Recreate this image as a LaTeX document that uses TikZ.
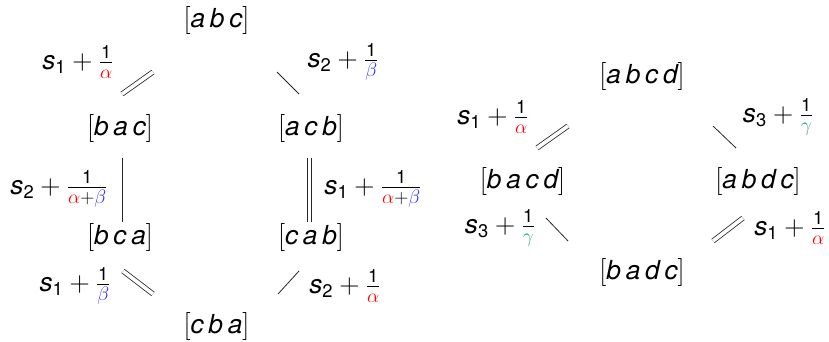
\documentclass[tikz,border=0pt]{standalone}
\usepackage{amsmath}
\usepackage{fontspec}
\setmainfont{TeX Gyre Heros}[Scale=0.97]
\definecolor{acol}{RGB}{255,0,0}
\definecolor{bcol}{RGB}{40,40,255}
\definecolor{gcol}{RGB}{20,170,110}
\newcommand\lv[1]{\text{\itshape #1}}
\newcommand\one{\text{1}}
\newcommand\al{\textcolor{acol}{\alpha}}
\newcommand\be{\textcolor{bcol}{\beta}}
\newcommand\ga{\textcolor{gcol}{\gamma}}
\newcommand\ssub[1]{\lv{s}_{\text{#1}}}
\newcommand\lsp{\mskip3.1mu}
\begin{document}
\begin{tikzpicture}[x=1pt,y=-1pt,
  every node/.style={inner sep=0pt,font=\fontsize{24}{28}\selectfont,scale=1.125,transform shape},
  perm/.style={},
  lab/.style={},
  single/.style={line width=0.8pt,draw=black!85},
  dbl/.style={line width=0.8pt,draw=black!85,double=white,double distance=3.6pt}]
\useasboundingbox (0,0) rectangle (829,342);
% left diagram
\node[perm] (abc) at (216.5,21) {$[\lv{a}\lsp\lv{b}\lsp\lv{c}]$};
\node[perm] (bac) at (120,129) {$[\lv{b}\lsp\lv{a}\lsp\lv{c}]$};
\node[perm] (acb) at (311,129) {$[\lv{a}\lsp\lv{c}\lsp\lv{b}]$};
\node[perm] (bca) at (120,238) {$[\lv{b}\lsp\lv{c}\lsp\lv{a}]$};
\node[perm] (cab) at (311,238) {$[\lv{c}\lsp\lv{a}\lsp\lv{b}]$};
\node[perm] (cba) at (216.5,327) {$[\lv{c}\lsp\lv{b}\lsp\lv{a}]$};
\coordinate (l1a) at (122,94);  \coordinate (l1b) at (153,72);
\coordinate (l2a) at (277,72);  \coordinate (l2b) at (299,94);
\coordinate (l3a) at (122,158); \coordinate (l3b) at (122,222);
\coordinate (l4a) at (309.5,158); \coordinate (l4b) at (309.5,222);
\coordinate (l5a) at (123,271); \coordinate (l5b) at (153,294);
\coordinate (l6a) at (278,294); \coordinate (l6b) at (299,271);
\draw[dbl] (l1a) -- (l1b);
\draw[single] (l2a) -- (l2b);
\draw[single] (l3a) -- (l3b);
\draw[dbl] (l4a) -- (l4b);
\draw[dbl] (l5a) -- (l5b);
\draw[single] (l6a) -- (l6b);
\node[lab] (t1) at (78,62) {$\ssub{1}+\frac{\one}{\al}$};
\node[lab] (t2) at (343,62) {$\ssub{2}+\frac{\one}{\be}$};
\node[lab] (t3) at (59,189) {$\ssub{2}+\frac{\one}{\al+\be}$};
\node[lab] (t4) at (373,189) {$\ssub{1}+\frac{\one}{\al+\be}$};
\node[lab] (t5) at (75,286) {$\ssub{1}+\frac{\one}{\be}$};
\node[lab] (t6) at (345,286) {$\ssub{2}+\frac{\one}{\al}$};
% right diagram
\node[perm] (abcd) at (642,77) {$[\lv{a}\lsp\lv{b}\lsp\lv{c}\lsp\lv{d}]$};
\node[perm] (bacd) at (522.5,182) {$[\lv{b}\lsp\lv{a}\lsp\lv{c}\lsp\lv{d}]$};
\node[perm] (abdc) at (758,182) {$[\lv{a}\lsp\lv{b}\lsp\lv{d}\lsp\lv{c}]$};
\node[perm] (badc) at (642,273) {$[\lv{b}\lsp\lv{a}\lsp\lv{d}\lsp\lv{c}]$};
\coordinate (r1a) at (537,148); \coordinate (r1b) at (568,126);
\coordinate (r2a) at (713,126); \coordinate (r2b) at (736,148);
\coordinate (r3a) at (546,218); \coordinate (r3b) at (568,241);
\coordinate (r4a) at (713,241); \coordinate (r4b) at (743,218);
\draw[dbl] (r1a) -- (r1b);
\draw[single] (r2a) -- (r2b);
\draw[single] (r3a) -- (r3b);
\draw[dbl] (r4a) -- (r4b);
\node[lab] (u1) at (493,117) {$\ssub{1}+\frac{\one}{\al}$};
\node[lab] (u2) at (778,117) {$\ssub{3}+\frac{\one}{\ga}$};
\node[lab] (u3) at (500,228) {$\ssub{3}+\frac{\one}{\ga}$};
\node[lab] (u4) at (790,228) {$\ssub{1}+\frac{\one}{\al}$};
\end{tikzpicture}
\end{document}
